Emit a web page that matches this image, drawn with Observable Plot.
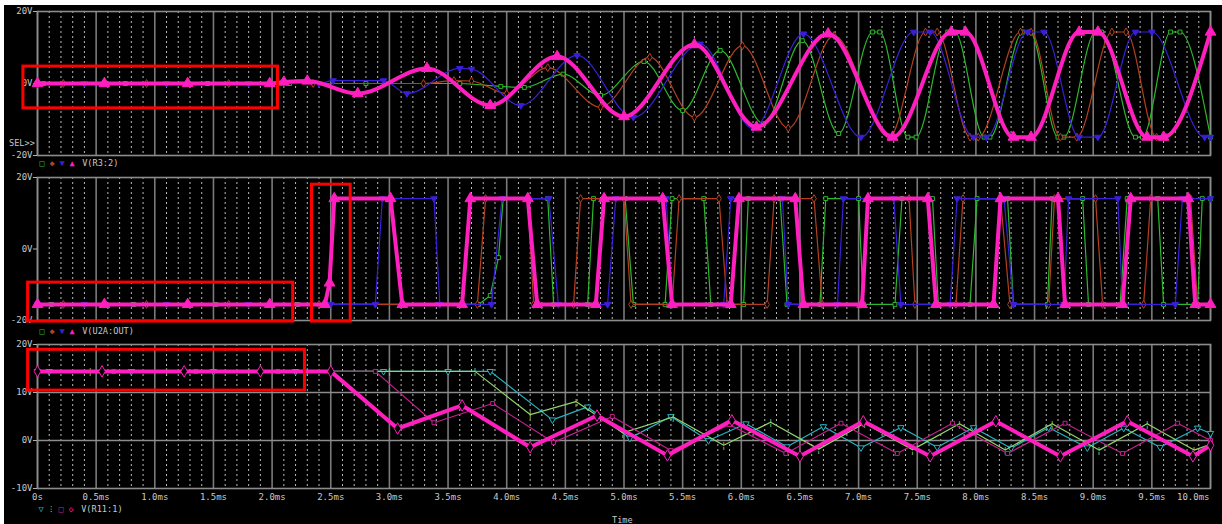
<!DOCTYPE html>
<html><head><meta charset="utf-8">
<script src="https://cdn.jsdelivr.net/npm/d3@7"></script>
<script src="https://cdn.jsdelivr.net/npm/@observablehq/plot@0.6"></script>
<style>
html,body{margin:0;padding:0;background:#fff;}
#wrap{position:relative;width:1222px;height:524px;background:#fff;overflow:hidden}
#bg{position:absolute;left:4px;top:5px;width:1218px;height:519px;background:#000}
.p{position:absolute;left:0}
.lg{position:absolute;font-family:"DejaVu Sans Mono",monospace;font-size:8.6px;color:#c8c8c8;white-space:pre;line-height:10px}
.lg span{display:inline-block;width:10px;text-align:center}
</style></head>
<body>
<div id="wrap"><div id="bg"></div></div>
<script>
// ---------- axis ticks ----------
const timeTicks = [0,0.5,1,1.5,2,2.5,3,3.5,4,4.5,5,5.5,6,6.5,7,7.5,8,8.5,9,9.5,10];
const timeLabels = ["0s","0.5ms","1.0ms","1.5ms","2.0ms","2.5ms","3.0ms","3.5ms","4.0ms","4.5ms","5.0ms","5.5ms","6.0ms","6.5ms","7.0ms","7.5ms","8.0ms","8.5ms","9.0ms","9.5ms","10.0ms"];
const r3Ticks = [20,0,-20], r3Labels = ["20V","0V","-20V"];
const u2Ticks = [20,0,-20], u2Labels = ["20V","0V","-20V"];
const r11Ticks = [20,10,0,-10], r11Labels = ["20V","10V","0V","-10V"];
const r11Grid = [10,0];

// ---------- V(R3:2)  [time ms, volts] ----------
const r3Green = [[0,0],[0.05,0],[0.75,0],[1.45,0],[2.15,0],[2.8,0],[3.6,0],[3.95,-0.8],[4.15,-1.1],[4.48,2.6],[4.8,-3.3],[5.17,6.1],[5.5,-7.5],[5.82,9.2],[6.19,-11.2],[6.52,11.9],[6.83,-13.9],[7.12,14.3],[7.18,14.3],[7.42,-14.9],[7.49,-14.9],[7.76,14.3],[7.82,14.3],[8.07,-14.9],[8.12,-14.9],[8.4,14.3],[8.46,14.3],[8.7,-14.9],[8.75,-14.9],[9.02,14.3],[9.07,14.3],[9.36,-14.9],[9.42,-14.9],[9.66,14.3],[9.74,14.3],[10,-14.9]];
const r3Brown = [[0,0],[0.22,0],[0.93,0],[1.63,0],[2.35,0],[3.29,0],[3.55,0.8],[3.7,0.7],[4.0,-2.8],[4.35,4.4],[4.8,-6.6],[5.22,7.3],[5.6,-9.4],[6.01,10.5],[6.4,-12.4],[6.79,13.3],[7.26,-14.9],[7.57,14.3],[7.67,14.3],[7.95,-14.9],[8.02,-14.9],[8.38,14.3],[8.47,14.3],[8.72,-14.9],[8.86,-14.9],[9.16,14.3],[9.28,14.3],[9.54,-14.9],[9.62,-14.9],[10,14.3]];
const r3Blue = [[0,0],[0.4,0],[1.1,0],[1.8,0],[2.4,0],[2.52,0.8],[2.95,0.8],[3.15,-2.8],[3.6,4.2],[3.7,4.0],[4.12,-6.1],[4.6,7.8],[5.08,-9.4],[5.65,11.0],[6.1,-12.5],[6.53,13.8],[7.02,-14.9],[7.47,14.3],[7.61,14.3],[7.98,-14.9],[8.09,-14.9],[8.44,14.3],[8.58,14.3],[8.88,-14.9],[9.04,-14.9],[9.36,14.3],[9.5,14.3],[9.95,-14.9],[10,-14.9]];
const r3Mag = [[0,0],[0.57,0],[1.28,0],[1.98,0],[2.1,0.4],[2.3,0.7],[2.73,-2.8],[3.32,4.2],[3.86,-6.1],[4.43,7.5],[5.0,-9.2],[5.6,10.8],[6.13,-12.1],[6.74,13.8],[7.29,-14.9],[7.79,14.3],[7.91,14.3],[8.32,-14.9],[8.47,-14.9],[8.88,14.3],[9.04,14.3],[9.46,-14.9],[9.6,-14.9],[10,14.3]];

// ---------- V(U2A:OUT) ----------
const hi = 14.1, lo = -15.5;
const u2Green = [[0,lo],[0.12,lo],[0.82,lo],[1.52,lo],[2.22,lo],[3.76,lo],[3.86,-13],[3.93,-2.4],[3.97,hi],[4.35,hi],[4.40,lo],[4.69,lo],[4.74,hi],[5.01,hi],[5.08,lo],[5.35,lo],[5.41,hi],[5.68,hi],[5.74,lo],[6.02,lo],[6.06,hi],[6.33,hi],[6.39,lo],[6.67,lo],[6.72,hi],[7.0,hi],[7.04,lo],[7.31,lo],[7.37,hi],[7.63,hi],[7.68,lo],[7.95,lo],[8.01,hi],[8.27,hi],[8.32,lo],[8.61,lo],[8.65,hi],[8.91,hi],[8.96,lo],[9.23,lo],[9.29,hi],[9.55,hi],[9.60,lo],[9.89,lo],[9.93,hi],[10,hi]];
const u2Brown = [[0,lo],[0.22,lo],[0.93,lo],[1.63,lo],[2.4,lo],[3.75,lo],[3.82,hi],[4.18,hi],[4.23,lo],[4.57,lo],[4.63,hi],[5.0,hi],[5.06,lo],[5.41,lo],[5.47,hi],[5.81,hi],[5.88,lo],[6.22,lo],[6.28,hi],[6.62,hi],[6.69,lo],[7.02,lo],[7.08,hi],[7.43,hi],[7.48,lo],[7.83,lo],[7.89,hi],[8.21,hi],[8.29,lo],[8.62,lo],[8.67,hi],[9.02,hi],[9.08,lo],[9.43,lo],[9.49,hi],[9.83,hi],[9.89,lo],[10,lo]];
const u2Blue = [[0,lo],[0.4,lo],[1.1,lo],[1.8,lo],[2.5,lo],[2.88,lo],[2.94,hi],[3.38,hi],[3.43,lo],[3.87,lo],[3.96,hi],[4.36,hi],[4.44,lo],[4.86,lo],[4.93,hi],[5.36,hi],[5.41,lo],[5.85,lo],[5.91,hi],[6.35,hi],[6.40,lo],[6.82,lo],[6.87,hi],[7.30,hi],[7.36,lo],[7.78,lo],[7.84,hi],[8.24,hi],[8.32,lo],[8.75,lo],[8.79,hi],[9.21,hi],[9.25,lo],[9.70,lo],[9.76,hi],[10,hi]];
const u2Mag = [[0,lo],[0.57,lo],[1.28,lo],[1.98,lo],[2.45,lo],[2.49,-9.5],[2.53,hi],[3.01,hi],[3.11,lo],[3.62,lo],[3.69,hi],[4.18,hi],[4.26,lo],[4.76,lo],[4.83,hi],[5.33,hi],[5.41,lo],[5.91,lo],[5.98,hi],[6.46,hi],[6.53,lo],[7.03,lo],[7.08,hi],[7.59,hi],[7.66,lo],[8.15,lo],[8.21,hi],[8.70,hi],[8.76,lo],[9.25,lo],[9.32,hi],[9.81,hi],[9.87,lo],[10,lo]];

// ---------- V(R11:1) ----------
const r11Cyan = [[0,14.4],[0.1,14.4],[0.8,14.4],[1.5,14.4],[2.2,14.4],[2.95,14.4],[3.5,14.4],[3.86,14.4],[4.39,4.3],[4.69,7.0],[5.05,0.5],[5.4,5.0],[5.72,0],[6.04,3.5],[6.39,-1.3],[6.7,2.9],[7.02,-1.5],[7.36,2.7],[7.67,-1.4],[7.98,2.7],[8.3,-1.6],[8.62,2.7],[8.95,-1.5],[9.26,2.6],[9.57,-1.4],[9.89,2.6],[10,1.5]];
const r11Lime = [[0,14.4],[0.45,14.4],[1.1,14.4],[1.8,14.4],[2.3,14.4],[3.0,14.4],[3.73,14.4],[4.2,5.4],[4.59,8.1],[4.99,1.6],[5.42,4.9],[5.85,-1.0],[6.25,3.8],[6.66,-1.8],[7.05,3.6],[7.46,-1.9],[7.86,3.5],[8.25,-2.0],[8.65,3.5],[9.05,-2.0],[9.46,3.5],[9.86,-2.0],[10,-0.8]];
const r11Pink = [[0,14.4],[0.65,14.4],[1.35,14.4],[2.05,14.4],[2.88,14.4],[3.38,3.7],[3.88,7.7],[4.4,-0.4],[4.9,5.0],[5.4,-2.1],[5.9,3.3],[6.38,-2.7],[6.85,3.6],[7.33,-2.7],[7.8,3.6],[8.27,-2.7],[8.76,3.6],[9.25,-2.7],[9.72,3.6],[10,0]];
const r11Mag = [[0,14.4],[0.55,14.4],[1.25,14.4],[1.9,14.4],[2.5,14.4],[3.07,2.5],[3.62,7.3],[4.2,-1.4],[4.77,5.2],[5.37,-3.1],[5.92,4.2],[6.5,-3.3],[7.04,4.0],[7.61,-3.3],[8.17,4.0],[8.72,-3.3],[9.29,4.0],[9.85,-3.3],[10,-1.0]];

// ---------- highlight boxes (data units) ----------
const r3Boxes = [{t1:-0.12, t2:2.05, v1:-6.9, v2:4.7}];
const u2Boxes = [{t1:-0.08, t2:2.18, v1:-20.3, v2:-9.4}, {t1:2.34, t2:2.67, v1:-20.3, v2:18.0}];
const r11Boxes = [{t1:-0.08, t2:2.28, v1:10.4, v2:18.9}];

// ---------- styling ----------
const C = {green:"#2cb82c", brown:"#b3401f", blue:"#3a1fd6", mag:"#ff1ebe", cyan:"#26b5c5", lime:"#92d46c", pink:"#c4208e"};
const triDown = {draw(ctx, size){ const y = -Math.sqrt(size/(Math.sqrt(3)*3)); ctx.moveTo(0,-2*y); ctx.lineTo(-Math.sqrt(3)*y, y); ctx.lineTo(Math.sqrt(3)*y, y); ctx.closePath(); }};
const minorTicks = d3.range(0, 101).map(i => i/10).filter(v => Math.round(v*10) % 5 !== 0);
const txt = "#c8c8c8";

function panel(o){
  const marks = [
    Plot.ruleX(minorTicks, {stroke:"#b8b8b8", strokeDasharray:"2,3", strokeWidth:1}),
    Plot.ruleX(timeTicks, {stroke:"#7a7a7a", strokeWidth:1.6}),
    Plot.ruleY(o.hGrid || [], {stroke:"#8c8c8c", strokeWidth:1.5}),
    Plot.frame({stroke:"#8c8c8c", strokeWidth:1.6}),
    Plot.ruleY(o.yTicks, {x1:-0.035, x2:0, stroke:"#b0b0b0"}),
    Plot.text(o.yTicks, {x: () => 0, y: d => d, text: (d,i) => o.yLabels[i], textAnchor:"end", dx:-5, fill:txt})
  ];
  for (const tr of o.traces){
    marks.push(Plot.line(tr.data, {x: d=>d[0], y: d=>d[1], stroke: tr.color, strokeWidth: tr.width, curve: tr.curve || "linear"}));
    if (tr.mark === "bar") {
      marks.push(Plot.text(tr.data, {x: d=>d[0], y: d=>d[1], text: () => "¦", fill: tr.color, fontSize: 9}));
    } else {
      marks.push(Plot.dot(tr.data, {x: d=>d[0], y: d=>d[1], symbol: tr.mark, r: tr.r, stroke: tr.color, fill: tr.fill || "#000", strokeWidth: 1}));
    }
  }
  if (o.xLabels){
    const n = timeTicks.length;
    marks.push(Plot.text(timeTicks.slice(0, n-1), {x: d=>d, text: (d,i)=>timeLabels[i], frameAnchor:"bottom", dy:11, fill:txt}));
    marks.push(Plot.text(timeTicks.slice(n-1), {x: d=>d, text: () => timeLabels[n-1], frameAnchor:"bottom", dy:11, textAnchor:"end", dx:-1, fill:txt}));
  }
  marks.push(Plot.rect(o.boxes, {x1:"t1", x2:"t2", y1:"v1", y2:"v2", stroke:"#ff0000", strokeWidth:3, fill:"none"}));
  const svg = Plot.plot({
    width:1222, height:o.height, marginLeft:37, marginRight:12, marginTop:o.mt, marginBottom:o.mb,
    style:{background:"transparent", color:txt, fontFamily:"'DejaVu Sans Mono', monospace", fontSize:"9px", overflow:"visible"},
    x:{domain:[0,10], axis:null},
    y:{domain:o.yDomain, axis:null},
    marks
  });
  svg.classList.add("p");
  svg.style.top = o.top + "px";
  svg.style.position = "absolute";
  svg.style.left = "0px";
  document.getElementById("wrap").appendChild(svg);
}

panel({top:0, height:170, mt:11, mb:15, yDomain:[-20,20], yTicks:r3Ticks, yLabels:r3Labels, boxes:r3Boxes,
  traces:[
    {data:r3Green, color:C.green, width:1.2, curve:"monotone-x", mark:"square", r:2.2},
    {data:r3Brown, color:C.brown, width:1.2, curve:"monotone-x", mark:"diamond", r:2.4},
    {data:r3Blue, color:C.blue, width:1.2, curve:"monotone-x", mark:triDown, r:2.4, fill:C.blue},
    {data:r3Mag, color:C.mag, width:4, curve:"monotone-x", mark:"triangle", r:4, fill:C.mag}
  ]});
panel({top:170, height:160, mt:7, mb:10, yDomain:[-20,20], yTicks:u2Ticks, yLabels:u2Labels, boxes:u2Boxes,
  traces:[
    {data:u2Green, color:C.green, width:1.2, mark:"square", r:2.2},
    {data:u2Brown, color:C.brown, width:1.2, mark:"diamond", r:2.4},
    {data:u2Blue, color:C.blue, width:1.2, mark:triDown, r:2.4, fill:C.blue},
    {data:u2Mag, color:C.mag, width:4, mark:"triangle", r:4, fill:C.mag}
  ]});
panel({top:336, height:168, mt:8, mb:16, yDomain:[-10,20], yTicks:r11Ticks, yLabels:r11Labels, boxes:r11Boxes, hGrid:r11Grid, xLabels:true,
  traces:[
    {data:r11Cyan, color:C.cyan, width:1.2, mark:triDown, r:2.4},
    {data:r11Lime, color:C.lime, width:1.2, mark:"bar"},
    {data:r11Pink, color:C.pink, width:1.2, mark:"square", r:2.2},
    {data:r11Mag, color:C.mag, width:4, mark:"diamond", r:3.5}
  ]});

// ---------- legends & labels ----------
const wrap = document.getElementById("wrap");
function html(left, top, inner){ const d = document.createElement("div"); d.className="lg"; d.style.left=left+"px"; d.style.top=top+"px"; d.innerHTML=inner; wrap.appendChild(d); }
html(37, 158, `<span style="color:${C.green}">□</span><span style="color:${C.brown}">◆</span><span style="color:${C.blue}">▼</span><span style="color:${C.mag}">▲</span> V(R3:2)`);
html(37, 326, `<span style="color:${C.green}">□</span><span style="color:${C.brown}">◆</span><span style="color:${C.blue}">▼</span><span style="color:${C.mag}">▲</span> V(U2A:OUT)`);
html(36, 504, `<span style="color:${C.cyan}">▽</span><span style="color:${C.lime}">⁝</span><span style="color:${C.pink}">□</span><span style="color:${C.mag}">◇</span> V(R11:1)`);
html(9, 138, "SEL>>");
html(612, 515, "Time");
</script>
</body></html>
